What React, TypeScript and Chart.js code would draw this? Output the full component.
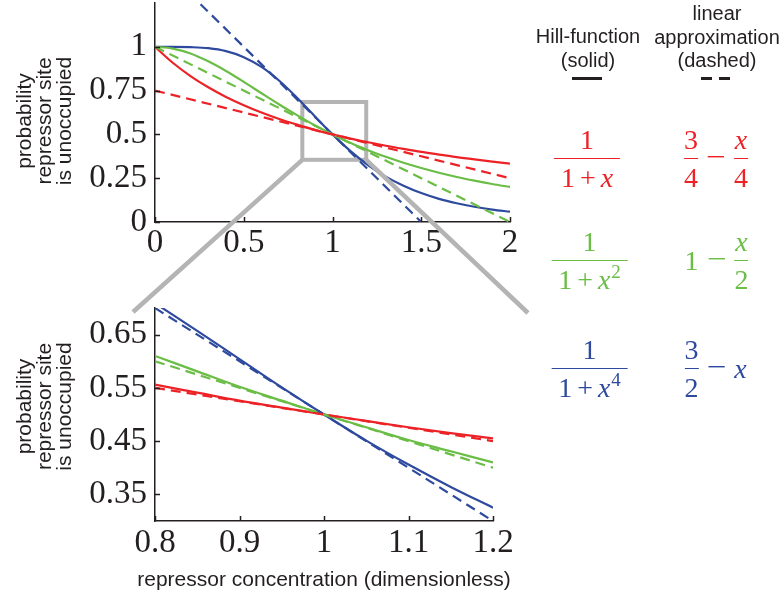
import React, { useEffect, useRef } from "react";
import { Chart, registerables } from "chart.js";

Chart.register(...registerables);

const RED = "#EC2227";
const GREEN = "#6ABD45";
const BLUE = "#2E4A9E";
const GRAY = "#B4B4B4";
const INK = "#231F20";
const SERIF = '"Liberation Serif", "Times New Roman", serif';
const SANS = '"Liberation Sans", Arial, Helvetica, sans-serif';

// ---- top panel data (x from 0 to 2) ----
const TOP_X = [0, 0.1, 0.2, 0.3, 0.4, 0.5, 0.6, 0.7, 0.8, 0.9, 1, 1.1, 1.2, 1.3, 1.4, 1.5, 1.6, 1.7, 1.8, 1.9, 2];
const RED_TOP = [1, 0.909, 0.833, 0.769, 0.714, 0.667, 0.625, 0.588, 0.556, 0.526, 0.5, 0.476, 0.455, 0.435, 0.417, 0.4, 0.385, 0.37, 0.357, 0.345, 0.333];
const GREEN_TOP = [1, 0.99, 0.962, 0.917, 0.862, 0.8, 0.735, 0.671, 0.61, 0.552, 0.5, 0.452, 0.41, 0.372, 0.338, 0.308, 0.281, 0.257, 0.236, 0.217, 0.2];
const BLUE_TOP = [1, 1, 0.998, 0.992, 0.975, 0.941, 0.885, 0.806, 0.709, 0.604, 0.5, 0.406, 0.325, 0.259, 0.207, 0.165, 0.132, 0.107, 0.087, 0.071, 0.059];
const RED_DASH_TOP_X = [0, 2];
const RED_DASH_TOP = [0.75, 0.25];
const GREEN_DASH_TOP_X = [0, 2];
const GREEN_DASH_TOP = [1, 0];
const BLUE_DASH_TOP_X = [0, 1.5];
const BLUE_DASH_TOP = [1.5, 0];
const TOP_X_TICKS = [0, 0.5, 1, 1.5, 2];
const TOP_Y_TICKS = [0, 0.25, 0.5, 0.75, 1];

// ---- bottom panel data (x from 0.8 to 1.2) ----
const BOT_X = [0.8, 0.85, 0.9, 0.95, 1, 1.05, 1.1, 1.15, 1.2];
const RED_BOT = [0.556, 0.541, 0.526, 0.513, 0.5, 0.488, 0.476, 0.465, 0.455];
const GREEN_BOT = [0.61, 0.581, 0.552, 0.526, 0.5, 0.476, 0.452, 0.431, 0.41];
const BLUE_BOT = [0.709, 0.657, 0.604, 0.551, 0.5, 0.451, 0.406, 0.364, 0.325];
const DASH_BOT_X = [0.8, 1.2];
const RED_DASH_BOT = [0.55, 0.45];
const GREEN_DASH_BOT = [0.6, 0.4];
const BLUE_DASH_BOT = [0.7, 0.3];
const BOT_X_TICKS = [0.8, 0.9, 1, 1.1, 1.2];
const BOT_Y_TICKS = [0.35, 0.45, 0.55, 0.65];

// zoom region marked on the top panel
const ZOOM_BOX = { x0: 0.83, x1: 1.19, y0: 0.355, y1: 0.685 };

const Y_TITLE = ["probability", "repressor site", "is unoccupied"];
const X_TITLE = "repressor concentration (dimensionless)";

const TOP_POS = { left: 0, top: 0, width: 530, height: 262 };
const BOT_POS = { left: 0, top: 290, width: 530, height: 310 };

function zip(xs: number[], ys: number[]) {
  return xs.map((x, i) => ({ x, y: ys[i] }));
}

function lineDs(xs: number[], ys: number[], color: string, dashed: boolean) {
  return {
    data: zip(xs, ys),
    borderColor: color,
    backgroundColor: color,
    borderWidth: 2.2,
    borderDash: dashed ? [10, 6] : [],
    pointRadius: 0,
    cubicInterpolationMode: "monotone",
    fill: false,
  };
}

const fmt = (v: any) => String(Math.round(Number(v) * 100) / 100);

const decorPlugin = {
  id: "decor",
  beforeDatasetsDraw(chart: any, _args: any, opts: any) {
    if (!opts || !opts.box) return;
    const { ctx, scales } = chart;
    const b = opts.box;
    const x0 = scales.x.getPixelForValue(b.x0);
    const x1 = scales.x.getPixelForValue(b.x1);
    const y0 = scales.y.getPixelForValue(b.y0);
    const y1 = scales.y.getPixelForValue(b.y1);
    ctx.save();
    ctx.strokeStyle = GRAY;
    ctx.lineWidth = 4;
    ctx.strokeRect(x0, y1, x1 - x0, y0 - y1);
    ctx.restore();
  },
  afterDraw(chart: any, _args: any, opts: any) {
    const { ctx, chartArea, scales } = chart;
    ctx.save();
    ctx.strokeStyle = INK;
    ctx.lineWidth = 1.5;
    ctx.beginPath();
    scales.x.ticks.forEach((t: any) => {
      const px = Math.round(scales.x.getPixelForValue(t.value)) + 0.5;
      ctx.moveTo(px, chartArea.bottom);
      ctx.lineTo(px, chartArea.bottom - 5);
    });
    scales.y.ticks.forEach((t: any) => {
      const py = Math.round(scales.y.getPixelForValue(t.value)) + 0.5;
      ctx.moveTo(chartArea.left, py);
      ctx.lineTo(chartArea.left + 5, py);
    });
    ctx.stroke();

    ctx.fillStyle = INK;
    ctx.font = `21px ${SANS}`;
    ctx.textAlign = "center";
    ctx.textBaseline = "middle";
    if (opts && opts.yTitle) {
      ctx.save();
      ctx.translate(opts.yTitleX, (chartArea.top + chartArea.bottom) / 2 + opts.yTitleDy);
      ctx.rotate(-Math.PI / 2);
      opts.yTitle.forEach((line: string, i: number) => {
        ctx.fillText(line, 0, (i - 1) * 20);
      });
      ctx.restore();
    }
    if (opts && opts.xTitle) {
      ctx.font = `21px ${SANS}`;
      ctx.fillText(opts.xTitle, (chartArea.left + chartArea.right) / 2, chartArea.bottom + opts.xTitleDy);
    }
    ctx.restore();
  },
};

function noPad(s: any) {
  s.paddingTop = 0;
  s.paddingBottom = 0;
  s.paddingLeft = 0;
  s.paddingRight = 0;
}

function makeConfig(p: any) {
  const tickFont = { family: SERIF, size: 33, lineHeight: 1 };
  return {
    type: "line",
    data: { datasets: p.datasets },
    options: {
      animation: false,
      responsive: false,
      maintainAspectRatio: false,
      events: [],
      layout: { padding: p.padding },
      plugins: { legend: { display: false }, tooltip: { enabled: false }, decor: p.decor },
      scales: {
        x: {
          type: "linear",
          min: p.xMin,
          max: p.xMax,
          afterBuildTicks: (s: any) => {
            s.ticks = p.xTicks.map((v: number) => ({ value: v }));
          },
          afterFit: (s: any) => {
            s.height = p.xAxisH;
            noPad(s);
          },
          grid: { display: false, drawTicks: false },
          border: { display: true, color: INK, width: 1.5 },
          ticks: { font: tickFont, color: INK, padding: p.xPad, maxRotation: 0, autoSkip: false, callback: fmt },
        },
        y: {
          type: "linear",
          min: p.yMin,
          max: p.yMax,
          afterBuildTicks: (s: any) => {
            s.ticks = p.yTicks.map((v: number) => ({ value: v }));
          },
          afterFit: (s: any) => {
            s.width = 155;
            noPad(s);
          },
          grid: { display: false, drawTicks: false },
          border: { display: true, color: INK, width: 1.5 },
          ticks: { font: tickFont, color: INK, padding: 8, autoSkip: false, callback: fmt },
        },
      },
    },
    plugins: [decorPlugin],
  };
}

function Frac({ num, den, color, pad }: any) {
  return (
    <span style={{ display: "inline-flex", flexDirection: "column", alignItems: "stretch", textAlign: "center" }}>
      <span style={{ lineHeight: 1, padding: `0 ${pad}px 4px` }}>{num}</span>
      <span style={{ lineHeight: 1, borderTop: `1.5px solid ${color}`, padding: `5px ${pad}px 0` }}>{den}</span>
    </span>
  );
}

const X = () => <i>x</i>;
const Sup = ({ children }: any) => (
  <span style={{ fontSize: "0.68em", position: "relative", top: "-0.6em", marginLeft: 1 }}>{children}</span>
);
const Plus = () => <span style={{ margin: "0 5px" }}>+</span>;
const Minus = () => <span style={{ margin: "0 10px", position: "relative", top: -2, display: "inline-block", transform: "scaleX(1.25)" }}>−</span>;

function Formula({ cx, cy, color, children }: any) {
  return (
    <div
      style={{
        position: "absolute",
        left: cx,
        top: cy,
        transform: "translate(-50%, -50%)",
        color,
        fontFamily: SERIF,
        fontSize: 28,
        display: "flex",
        alignItems: "center",
        whiteSpace: "nowrap",
      }}
    >
      {children}
    </div>
  );
}

export default function App() {
  const topRef = useRef<HTMLCanvasElement>(null);
  const botRef = useRef<HTMLCanvasElement>(null);
  const overRef = useRef<HTMLCanvasElement>(null);

  useEffect(() => {
    const top = new Chart(
      topRef.current as any,
      makeConfig({
        datasets: [
          lineDs(RED_DASH_TOP_X, RED_DASH_TOP, RED, true),
          lineDs(GREEN_DASH_TOP_X, GREEN_DASH_TOP, GREEN, true),
          lineDs(BLUE_DASH_TOP_X, BLUE_DASH_TOP, BLUE, true),
          lineDs(TOP_X, RED_TOP, RED, false),
          lineDs(TOP_X, GREEN_TOP, GREEN, false),
          lineDs(TOP_X, BLUE_TOP, BLUE, false),
        ],
        xMin: 0,
        xMax: 2,
        yMin: 0,
        yMax: 1.25,
        xTicks: TOP_X_TICKS,
        yTicks: TOP_Y_TICKS,
        padding: { top: 3, right: 20, left: 0, bottom: 0 },
        xAxisH: 40,
        xPad: 5,
        decor: { box: ZOOM_BOX, yTitle: Y_TITLE, yTitleX: 45, yTitleDy: 8.5 },
      }) as any
    );
    const bot = new Chart(
      botRef.current as any,
      makeConfig({
        datasets: [
          lineDs(DASH_BOT_X, RED_DASH_BOT, RED, true),
          lineDs(DASH_BOT_X, GREEN_DASH_BOT, GREEN, true),
          lineDs(DASH_BOT_X, BLUE_DASH_BOT, BLUE, true),
          lineDs(BOT_X, RED_BOT, RED, false),
          lineDs(BOT_X, GREEN_BOT, GREEN, false),
          lineDs(BOT_X, BLUE_BOT, BLUE, false),
        ],
        xMin: 0.8,
        xMax: 1.2,
        yMin: 0.3,
        yMax: 0.7,
        xTicks: BOT_X_TICKS,
        yTicks: BOT_Y_TICKS,
        padding: { top: 18, right: 37, left: 0, bottom: 0 },
        xAxisH: 79,
        xPad: 6,
        decor: { yTitle: Y_TITLE, yTitleX: 45, yTitleDy: -8, xTitle: X_TITLE, xTitleDy: 59 },
      }) as any
    );

    // connector lines from the zoom box to the lower panel
    const oc = overRef.current as HTMLCanvasElement;
    const ctx = oc.getContext("2d") as CanvasRenderingContext2D;
    ctx.clearRect(0, 0, oc.width, oc.height);
    const bx0 = TOP_POS.left + top.scales.x.getPixelForValue(ZOOM_BOX.x0);
    const bx1 = TOP_POS.left + top.scales.x.getPixelForValue(ZOOM_BOX.x1);
    const by0 = TOP_POS.top + top.scales.y.getPixelForValue(ZOOM_BOX.y0);
    const ca = bot.chartArea;
    ctx.strokeStyle = GRAY;
    ctx.lineWidth = 4.5;
    ctx.lineCap = "butt";
    ctx.beginPath();
    ctx.moveTo(bx0, by0);
    ctx.lineTo(BOT_POS.left + ca.left - 22, BOT_POS.top + ca.top + 4);
    ctx.moveTo(bx1, by0);
    ctx.lineTo(BOT_POS.left + ca.right + 35, BOT_POS.top + ca.top + 5);
    ctx.stroke();

    return () => {
      top.destroy();
      bot.destroy();
    };
  }, []);

  const header: React.CSSProperties = {
    position: "absolute",
    fontFamily: SANS,
    fontSize: 20,
    lineHeight: "23.5px",
    color: INK,
    textAlign: "center",
    whiteSpace: "nowrap",
    transform: "translateX(-50%)",
  };

  return (
    <div style={{ position: "absolute", left: 0, top: 0, width: 782, height: 600, background: "#fff", overflow: "hidden" }}>
      <canvas ref={topRef} width={TOP_POS.width} height={TOP_POS.height}
        style={{ position: "absolute", left: TOP_POS.left, top: TOP_POS.top, width: TOP_POS.width, height: TOP_POS.height }} />
      <canvas ref={botRef} width={BOT_POS.width} height={BOT_POS.height}
        style={{ position: "absolute", left: BOT_POS.left, top: BOT_POS.top, width: BOT_POS.width, height: BOT_POS.height }} />
      <canvas ref={overRef} width={782} height={600}
        style={{ position: "absolute", left: 0, top: 0, width: 782, height: 600, pointerEvents: "none" }} />

      <div style={{ ...header, left: 588, top: 25 }}>
        Hill-function<br />(solid)
      </div>
      <div style={{ ...header, left: 717, top: 2 }}>
        linear<br />approximation<br />(dashed)
      </div>
      <div style={{ position: "absolute", left: 572, top: 77, width: 30, height: 3, background: INK }} />
      <div style={{ position: "absolute", left: 701, top: 77, width: 11, height: 3, background: INK }} />
      <div style={{ position: "absolute", left: 719, top: 77, width: 11, height: 3, background: INK }} />

      <Formula cx={587} cy={159} color={RED}>
        <Frac color={RED} pad={7} num="1" den={<>1<Plus /><X /></>} />
      </Formula>
      <Formula cx={716} cy={159} color={RED}>
        <Frac color={RED} pad={0} num="3" den="4" />
        <Minus />
        <Frac color={RED} pad={0} num={<X />} den="4" />
      </Formula>

      <Formula cx={589.5} cy={261} color={GREEN}>
        <Frac color={GREEN} pad={7} num="1" den={<>1<Plus /><X /><Sup>2</Sup></>} />
      </Formula>
      <Formula cx={716.5} cy={261} color={GREEN}>
        <span style={{ lineHeight: 1 }}>1</span>
        <Minus />
        <Frac color={GREEN} pad={0} num={<X />} den="2" />
      </Formula>

      <Formula cx={589.5} cy={369} color={BLUE}>
        <Frac color={BLUE} pad={7} num="1" den={<>1<Plus /><X /><Sup>4</Sup></>} />
      </Formula>
      <Formula cx={715.5} cy={369} color={BLUE}>
        <Frac color={BLUE} pad={0} num="3" den="2" />
        <Minus />
        <span style={{ lineHeight: 1 }}><X /></span>
      </Formula>
    </div>
  );
}
